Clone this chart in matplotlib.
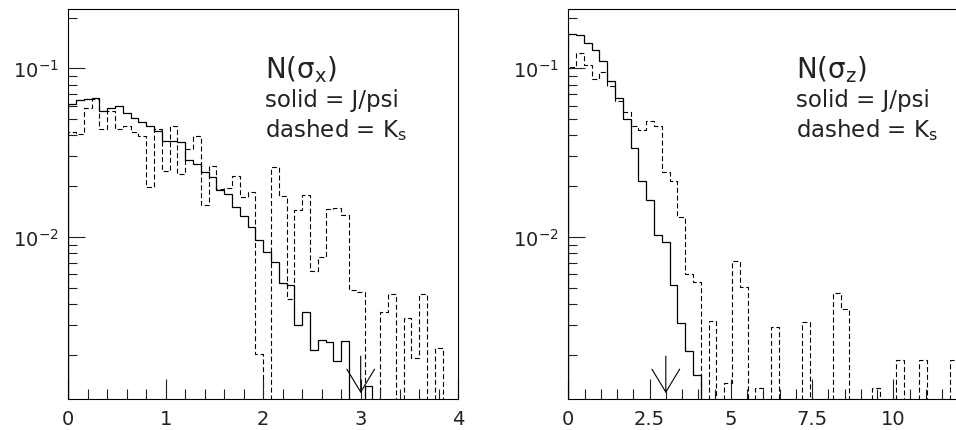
import numpy as np
import matplotlib
matplotlib.use('Agg')
import matplotlib.pyplot as plt
from matplotlib.ticker import LogLocator, MultipleLocator, FormatStrFormatter, NullFormatter

plt.rcParams['font.family'] = ['DejaVu Sans']
plt.rcParams['mathtext.fontset'] = 'dejavusans'
plt.rcParams['lines.scale_dashes'] = False

# N(sigma_x): 50 bins over 0..4
jpsi_x = [0.0615, 0.0650, 0.0662, 0.0668, 0.0562, 0.0583, 0.0597, 0.0544, 0.0508, 0.0480,
          0.0452, 0.0427, 0.0370, 0.0370, 0.0363, 0.0286, 0.0271, 0.0242, 0.0226, 0.0190,
          0.0180, 0.0150, 0.0133, 0.0114, 0.00964, 0.00818, 0.00708, 0.00531, 0.00521, 0.00298,
          0.00360, 0.00214, 0.00245, 0.00237, 0.00183, 0.00241, 0, 0, 0.00131, 0,
          0, 0, 0, 0, 0, 0, 0, 0, 0, 0]
ks_x = [0.0420, 0.0409, 0.0583, 0.0655, 0.0438, 0.0560, 0.0438, 0.0456, 0.0420, 0.0397,
        0.0198, 0.0435, 0.0246, 0.0453, 0.0236, 0.0333, 0.0395, 0.0155, 0.0264, 0.0191,
        0.0195, 0.0231, 0.0173, 0.0184, 0.00202, 0, 0.0259, 0.0174, 0.00429, 0.0145,
        0.0176, 0.00631, 0.00758, 0.0146, 0.0149, 0.0134, 0.00481, 0.00470, 0, 0,
        0.00356, 0.00459, 0, 0.00328, 0.00190, 0.00459, 0, 0.00220, 0, 0]

# N(sigma_z): 50 bins over 0..12
jpsi_z = [0.160, 0.158, 0.142, 0.129, 0.110, 0.0837, 0.0668, 0.0498, 0.0338, 0.0213,
          0.0165, 0.0102, 0.00938, 0.00519, 0.00310, 0.00211, 0.00151, 0, 0, 0,
          0, 0, 0, 0, 0, 0, 0, 0, 0, 0,
          0, 0, 0, 0, 0, 0, 0, 0, 0, 0,
          0, 0, 0, 0, 0, 0, 0, 0, 0, 0]
ks_z = [0.1021, 0.1227, 0.1049, 0.0866, 0.0949, 0.0787, 0.0641, 0.0552, 0.0456, 0.0432,
        0.0490, 0.0456, 0.0243, 0.0213, 0.0132, 0.00599, 0.00538, 0, 0.00317, 0,
        0.00136, 0.00718, 0.00503, 0, 0.00126, 0, 0.00292, 0, 0, 0,
        0.00312, 0, 0, 0, 0.00463, 0.00371, 0, 0, 0, 0.00126,
        0, 0, 0.00185, 0, 0, 0.00185, 0, 0, 0, 0.00185]

cut = 3.0
ylo, yhi = 1.09e-3, 0.225

W, H = 956, 431
fig = plt.figure(figsize=(W / 100, H / 100), dpi=100)
ax1 = fig.add_axes([68.2 / W, 31 / H, 390 / W, 390 / H])
ax2 = fig.add_axes([568.3 / W, 31 / H, 390 / W, 390 / H])


def panel(ax, edges, solid, dashed, major, minor, title, tx):
    floor = 1e-6
    ax.stairs(np.clip(solid, floor, None), edges, baseline=floor, color='k', lw=0.9)
    ax.stairs(np.clip(dashed, floor, None), edges, baseline=floor, color='k', lw=0.8,
              linestyle=(0, (3.6, 2.0)))
    ax.set_yscale('log')
    ax.set_ylim(ylo, yhi)
    ax.set_xlim(edges[0], edges[-1])
    ax.yaxis.set_major_locator(LogLocator(base=10, numticks=10))
    ax.yaxis.set_minor_locator(LogLocator(base=10, subs=np.arange(2, 10), numticks=20))
    ax.yaxis.set_minor_formatter(NullFormatter())
    ax.xaxis.set_major_locator(MultipleLocator(major))
    ax.xaxis.set_minor_locator(MultipleLocator(minor))
    ax.xaxis.set_major_formatter(FormatStrFormatter('%g'))
    ax.tick_params(which='both', direction='in', top=False, right=False, width=0.8,
                   labelsize=14, colors='#222222')
    ax.tick_params(axis='y', which='major', length=12.2, pad=7)
    ax.tick_params(axis='y', which='minor', length=6.5)
    ax.tick_params(axis='x', which='major', length=14.4, pad=7)
    ax.tick_params(axis='x', which='minor', length=7.2)
    for s in ax.spines.values():
        s.set_linewidth(0.8)

    # cut arrow
    ax.annotate('', xy=(cut, 0.015), xytext=(cut, 0.11),
                xycoords=('data', 'axes fraction'), textcoords=('data', 'axes fraction'),
                arrowprops=dict(arrowstyle='->,head_length=1.65,head_width=1.0',
                                lw=0.8, color='k', shrinkA=0, shrinkB=0,
                                mutation_scale=10))

    ax.text(tx, 0.826, title, transform=ax.transAxes, fontsize=20, va='baseline',
            color='#222222')
    ax.text(tx, 0.751, 'solid = J/psi', transform=ax.transAxes, fontsize=16.5,
            va='baseline', color='#222222')
    ax.text(tx, 0.674, r'dashed = K$_{\rm s}$', transform=ax.transAxes, fontsize=16.5,
            va='baseline', color='#222222')


panel(ax1, np.linspace(0, 4, 51), jpsi_x, ks_x, 1, 0.2, r'N(σ$_{\rm x}$)', 0.505)
panel(ax2, np.linspace(0, 12, 51), jpsi_z, ks_z, 2.5, 0.5, r'N(σ$_{\rm z}$)', 0.585)

fig.savefig('out.png', dpi=100)
